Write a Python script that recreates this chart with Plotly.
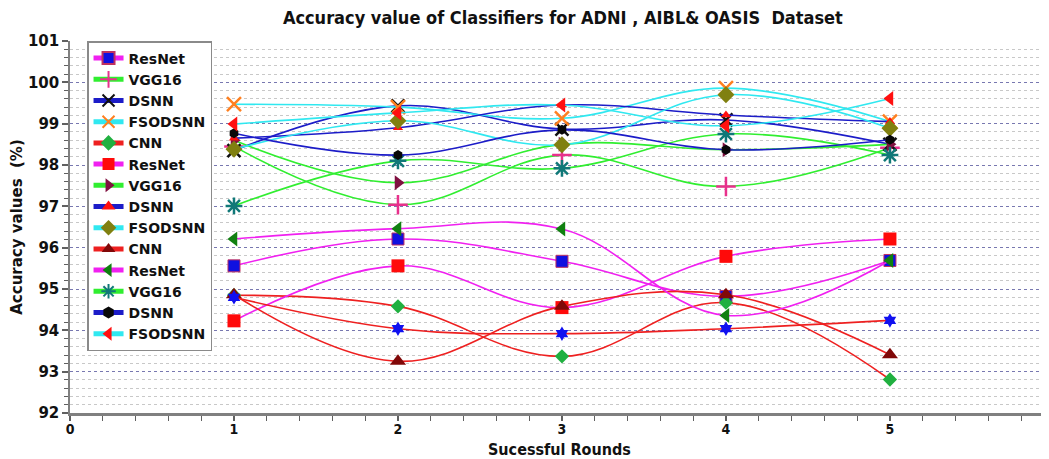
import plotly.graph_objects as go

# ---------------- data ----------------
rounds = [1, 2, 3, 4, 5]

resnet_a = [95.56, 96.21, 95.67, 94.82, 95.69]
vgg16_a = [98.45, 97.04, 98.24, 97.48, 98.42]
dsnn_a = [98.35, 99.43, 98.87, 99.09, 98.50]
fsodsnn_a = [99.47, 99.40, 99.13, 99.86, 99.05]
cnn_a = [94.85, 94.58, 93.37, 94.67, 92.81]
resnet_b = [94.23, 95.56, 94.55, 95.79, 96.21]
vgg16_b = [98.60, 97.57, 98.50, 98.37, 98.50]
dsnn_b = [98.65, 98.90, 99.45, 99.21, 99.05]
fsodsnn_b = [98.38, 99.07, 98.49, 99.70, 98.89]
cnn_b = [94.86, 93.25, 94.58, 94.86, 93.41]
resnet_c = [96.21, 96.46, 96.45, 94.36, 95.69]
vgg16_c = [97.01, 98.10, 97.92, 98.75, 98.24]
dsnn_c = [98.77, 98.24, 98.85, 98.37, 98.61]
fsodsnn_c = [98.99, 99.26, 99.45, 98.95, 99.61]
cnn_c = [94.80, 94.04, 93.92, 94.04, 94.24]

series_names = ["ResNet", "VGG16", "DSNN", "FSODSNN", "CNN",
                "ResNet", "VGG16", "DSNN", "FSODSNN", "CNN",
                "ResNet", "VGG16", "DSNN", "FSODSNN", "CNN"]
series_values = [resnet_a, vgg16_a, dsnn_a, fsodsnn_a, cnn_a,
                 resnet_b, vgg16_b, dsnn_b, fsodsnn_b, cnn_b,
                 resnet_c, vgg16_c, dsnn_c, fsodsnn_c, cnn_c]

y_ticks = [92, 93, 94, 95, 96, 97, 98, 99, 100, 101]
x_ticks = [0, 1, 2, 3, 4, 5, 6]

# ---------------- styles ----------------
MAG = "#f020f0"
GRN = "#30ee30"
BLU = "#1c1cc8"
CYN = "#30e8f0"
RED = "#ee2020"

styles = [
    dict(line=MAG, symbol="square", mcolor="#1010e0", mline="#c03060", mlw=1, size=12),
    dict(line=GRN, symbol="cross-thin", mcolor="#e8308c", mline="#e8308c", mlw=2.5, size=14),
    dict(line=BLU, symbol="x-thin", mcolor="#101010", mline="#101010", mlw=2.5, size=13),
    dict(line=CYN, symbol="x-thin", mcolor="#ff8020", mline="#ff8020", mlw=2.5, size=14),
    dict(line=RED, symbol="diamond", mcolor="#20b040", mline="#20b040", mlw=0, size=11),
    dict(line=MAG, symbol="square", mcolor="#ff0a0a", mline="#ff0a0a", mlw=0, size=13),
    dict(line=GRN, symbol="triangle-right", mcolor="#801040", mline="#801040", mlw=0, size=13),
    dict(line=BLU, symbol="triangle-up", mcolor="#ff1010", mline="#ff1010", mlw=0, size=9),
    dict(line=CYN, symbol="diamond", mcolor="#808010", mline="#808010", mlw=0, size=13),
    dict(line=RED, symbol="triangle-up", mcolor="#800808", mline="#800808", mlw=0, size=14),
    dict(line=MAG, symbol="triangle-left", mcolor="#108010", mline="#108010", mlw=0, size=13),
    dict(line=GRN, symbol="asterisk", mcolor="#107878", mline="#107878", mlw=2.5, size=14),
    dict(line=BLU, symbol="hexagon", mcolor="#080808", mline="#080808", mlw=0, size=10),
    dict(line=CYN, symbol="triangle-left", mcolor="#ff1010", mline="#ff1010", mlw=0, size=13),
    dict(line=RED, symbol="hexagram", mcolor="#1010f0", mline="#1010f0", mlw=0, size=11),
]

fig = go.Figure()
for i, (name, vals, st) in enumerate(zip(series_names, series_values, styles)):
    fig.add_trace(go.Scatter(
        x=rounds, y=vals, name=name, mode="lines+markers",
        line=dict(color=st["line"], width=1.6, shape="spline", smoothing=1.1),
        marker=dict(symbol=st["symbol"], color=st["mcolor"], size=st["size"],
                    line=dict(color=st["mline"], width=st["mlw"])),
        showlegend=(i < 14),
    ))

COND = "DejaVu Sans Condensed, Liberation Sans Narrow, DejaVu Sans"
PLOT_H = 451 - 33 - 46

fig.update_layout(
    width=1041, height=451,
    margin=dict(l=62, r=0, t=33, b=46, autoexpand=False),
    paper_bgcolor="white", plot_bgcolor="white",
    title=dict(text="Accuracy value of Classifiers for ADNI , AIBL&amp; OASIS  Dataset",
               x=0.533, xanchor="center", y=0.978, yanchor="middle",
               font=dict(family=COND, size=18, color="#111111", weight="bold")),
    legend=dict(x=0.0174, y=1.0, xanchor="left", yanchor="top",
                bgcolor="white", bordercolor="#8a8a8a", borderwidth=1.5,
                font=dict(family="DejaVu Sans", size=14, color="#111111", weight="bold"),
                itemsizing="constant", tracegroupgap=0),
    showlegend=True,
    annotations=[dict(text="Sucessful Rounds", xref="paper", yref="paper",
                      x=0.5, y=-46 / PLOT_H, xanchor="center", yanchor="bottom",
                      yshift=-2, showarrow=False,
                      font=dict(family=COND, size=16, color="#111111", weight="bold"))],
)

fig.update_xaxes(
    range=[0, 5.97], tickvals=x_ticks, ticktext=[str(v) for v in x_ticks],
    showgrid=False, zeroline=False, automargin=False,
    showline=True, linecolor="#808080", linewidth=2.5,
    ticks="outside", ticklen=5, tickwidth=1.5, tickcolor="#606060",
    minor=dict(dtick=0.2, ticks="outside", ticklen=5, tickwidth=1.2, tickcolor="#606060"),
    tickfont=dict(family=COND, size=14, color="#111111", weight="bold"),
    ticklabelstandoff=-4,
)

fig.update_yaxes(
    range=[92, 101], tickvals=y_ticks, ticktext=[str(v) for v in y_ticks],
    showgrid=True, gridcolor="#7878b0", griddash="dot", gridwidth=1,
    zeroline=False, automargin=False,
    showline=True, linecolor="#808080", linewidth=1.5,
    ticks="outside", ticklen=6, tickwidth=1.5, tickcolor="#606060",
    minor=dict(dtick=0.2, ticks="outside", ticklen=4, tickwidth=1, tickcolor="#606060",
               showgrid=True, gridcolor="#c8c8c8", griddash="dot", gridwidth=1),
    tickfont=dict(family="DejaVu Sans", size=15, color="#111111", weight="bold"),
    title=dict(text="Accuracy values  (%)", standoff=10,
               font=dict(family="DejaVu Sans", size=15, color="#111111", weight="bold")),
)

fig.write_html("out.html")
